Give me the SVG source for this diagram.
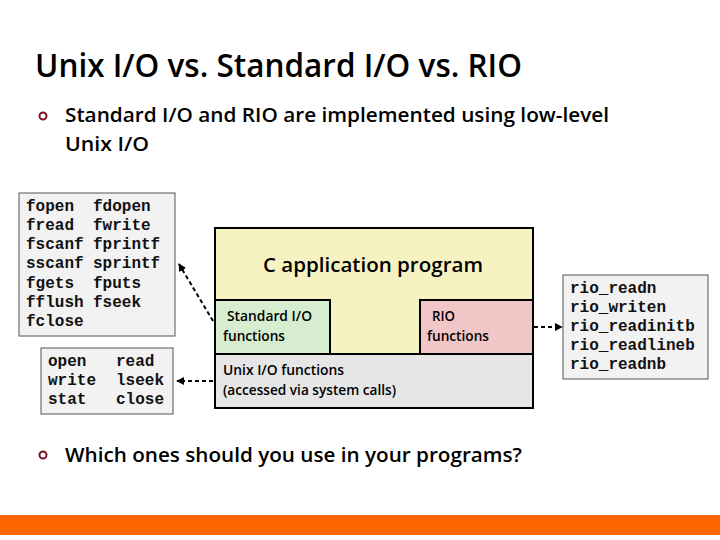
<svg xmlns="http://www.w3.org/2000/svg" width="720" height="540" viewBox="0 0 720 540">
<defs>
<style>
.sans{font-family:"Open Sans","Noto Sans","Liberation Sans",sans-serif;fill:#000}
.head{font-weight:600}
.mono{font-family:"Liberation Mono","DejaVu Sans Mono",monospace;font-size:16px;font-weight:bold;fill:#111}
.list{fill:#f2f2f2;stroke:#555;stroke-width:1}
.lbl{font-size:14px;font-weight:600}
.conn{stroke:#000;stroke-width:2;stroke-dasharray:4 3;fill:none}
.bul{fill:none;stroke:#7a1424;stroke-width:2}
</style>
<marker id="ah" viewBox="0 0 10 10" refX="9" refY="5" markerWidth="4" markerHeight="4" orient="auto">
<path d="M0,0 L10,5 L0,10 z" fill="#000"/>
</marker>
</defs>
<rect width="720" height="540" fill="#fff"/>
<text class="sans head" x="35" y="77" font-size="32" textLength="487" lengthAdjust="spacingAndGlyphs">Unix I/O vs. Standard I/O vs. RIO</text>
<circle class="bul" cx="43" cy="116" r="3.5"/>
<text class="sans head" x="65" y="122" font-size="20" textLength="544" lengthAdjust="spacingAndGlyphs">Standard I/O and RIO are implemented using low-level</text>
<text class="sans head" x="65" y="151" font-size="20" textLength="84" lengthAdjust="spacingAndGlyphs">Unix I/O</text>
<circle class="bul" cx="43" cy="455" r="3.5"/>
<text class="sans head" x="65" y="462" font-size="20" textLength="457" lengthAdjust="spacingAndGlyphs">Which ones should you use in your programs?</text>
<rect x="0" y="515" width="720" height="20" fill="#ff6600"/>

<g id="stdio-list">
<rect class="list" x="19" y="193" width="156" height="143"/>
<text class="mono" x="26" y="211">fopen</text><text class="mono" x="93" y="211">fdopen</text>
<text class="mono" x="26" y="230">fread</text><text class="mono" x="93" y="230">fwrite</text>
<text class="mono" x="26" y="249">fscanf</text><text class="mono" x="93" y="249">fprintf</text>
<text class="mono" x="26" y="268">sscanf</text><text class="mono" x="93" y="268">sprintf</text>
<text class="mono" x="26" y="288">fgets</text><text class="mono" x="93" y="288">fputs</text>
<text class="mono" x="26" y="307">fflush</text><text class="mono" x="93" y="307">fseek</text>
<text class="mono" x="26" y="326">fclose</text>
</g>
<g id="unix-list">
<rect class="list" x="41" y="348" width="132" height="66"/>
<text class="mono" x="48" y="366">open</text><text class="mono" x="116" y="366">read</text>
<text class="mono" x="48" y="385">write</text><text class="mono" x="116" y="385">lseek</text>
<text class="mono" x="48" y="404">stat</text><text class="mono" x="116" y="404">close</text>
</g>
<g id="rio-list">
<rect class="list" x="563" y="275" width="145" height="104"/>
<text class="mono" x="570" y="293">rio_readn</text>
<text class="mono" x="570" y="312">rio_writen</text>
<text class="mono" x="570" y="331">rio_readinitb</text>
<text class="mono" x="570" y="350">rio_readlineb</text>
<text class="mono" x="570" y="369">rio_readnb</text>
</g>

<g id="c-app">
<rect x="215" y="228" width="318" height="180" fill="#f6f2c2" stroke="#000" stroke-width="2"/>
<text class="sans" x="263" y="272" font-size="20" font-weight="600" textLength="220" lengthAdjust="spacingAndGlyphs">C application program</text>
</g>
<g id="stdio-funcs">
<rect x="215" y="300" width="115" height="54" fill="#d6eecf" stroke="#000" stroke-width="2"/>
<text class="sans lbl" x="227" y="321" textLength="85" lengthAdjust="spacingAndGlyphs">Standard I/O</text>
<text class="sans lbl" x="223" y="341" textLength="62" lengthAdjust="spacingAndGlyphs">functions</text>
</g>
<g id="rio-funcs">
<rect x="420" y="300" width="113" height="54" fill="#f0c6c6" stroke="#000" stroke-width="2"/>
<text class="sans lbl" x="432" y="321" textLength="23" lengthAdjust="spacingAndGlyphs">RIO</text>
<text class="sans lbl" x="427" y="341" textLength="62" lengthAdjust="spacingAndGlyphs">functions</text>
</g>
<g id="unix-funcs">
<rect x="215" y="354" width="318" height="54" fill="#e6e6e6" stroke="#000" stroke-width="2"/>
<text class="sans lbl" x="223" y="375" textLength="121" lengthAdjust="spacingAndGlyphs">Unix I/O functions</text>
<text class="sans lbl" x="223" y="395" textLength="173" lengthAdjust="spacingAndGlyphs">(accessed via system calls)</text>
</g>

<g id="connectors">
<line class="conn" x1="213" y1="321" x2="179" y2="264" marker-end="url(#ah)"/>
<line class="conn" x1="213" y1="381" x2="177" y2="381" marker-end="url(#ah)"/>
<line class="conn" x1="534" y1="327" x2="562" y2="327" marker-end="url(#ah)"/>
</g>
</svg>
